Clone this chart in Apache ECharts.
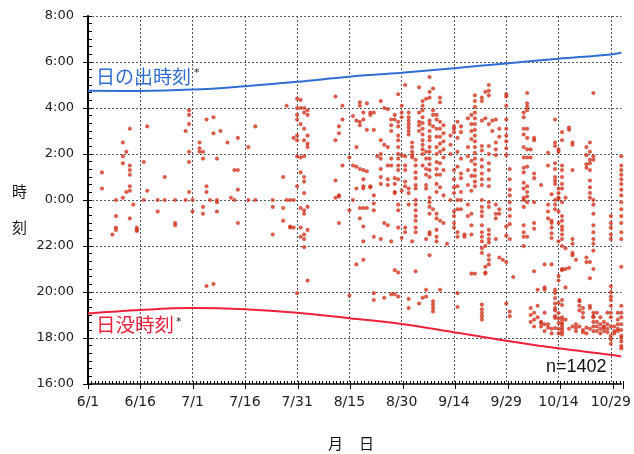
<!DOCTYPE html>
<html>
<head>
<meta charset="utf-8">
<script src="https://cdn.jsdelivr.net/npm/echarts@6/dist/echarts.min.js"></script>
<style>
  html, body { margin: 0; padding: 0; background: #fff; }
  #chart { width: 634px; height: 454px; }
</style>
</head>
<body>
<div id="chart"></div>
<script>
// x: days from 6/1, y: 16:00 .. 8:00 next day (after midnight -> +24)
const xTickLabels = ['6/1', '6/16', '7/1', '7/16', '7/31', '8/15', '8/30', '9/14', '9/29', '10/14', '10/29'];
const yTickLabels = ['16:00', '18:00', '20:00', '22:00', '0:00', '2:00', '4:00', '6:00', '8:00'];
const monthStart = { 6: 0, 7: 30, 8: 61, 9: 92, 10: 122, 11: 153 };

// rows: [day of month, time, time, ...]  (clock hours)
const jun = [
  [5, 1.2, 0.5], [8, 22.5], [9, 0.0, 23.3, 22.8, 22.7], [11, 1.9, 1.6, 2.5, 0.1],
  [12, 2.1, 0.35], [13, 3.1, 1.5, 1.3, 1.1, 0.6, 0.4, 23.2], [14, 23.8],
  [15, 22.8, 22.7, 22.65], [17, 1.65, 0.0], [18, 3.2, 0.4], [21, 0.0, 23.5],
  [23, 1.0, 0.0], [26, 0.0, 23.0, 22.9], [29, 0.0, 3.0],
  [30, 3.9, 3.7, 3.3, 2.1, 1.65, 0.35]
];
const jul = [
  [1, 23.5, 0.0], [3, 2.5, 2.25, 2.1], [4, 2.1, 1.8, 23.7, 23.4], [5, 0.6, 0.35, 3.5, 20.26],
  [6, 0.0], [7, 3.6, 2.9, 20.35], [8, 1.8, 23.9, 23.5, 0.0], [9, 3.0], [11, 2.5],
  [12, 0.1], [13, 1.3, 0.0], [14, 1.3, 2.7, 0.45, 23.0], [17, 0.0, 2.3], [19, 0.0, 3.2],
  [24, 0.0, 23.7, 22.5], [27, 1.0, 23.65, 23.1], [28, 4.1, 0.0], [29, 0.0, 22.8, 22.85],
  [30, 2.7, 22.8, 0.0], [31, 4.4, 4.0, 3.7, 3.5, 2.8, 2.6, 1.9, 0.6, 19.95]
];
const aug = [
  [1, 4.35, 4.0, 3.3, 1.85, 1.2, 23.65, 22.8, 22.4],
  [2, 4.0, 3.8, 3.1, 2.6, 1.9, 1.0, 0.8, 0.3, 23.55, 23.4, 22.5, 22.3, 21.95],
  [3, 3.9, 3.7, 2.8, 2.45, 2.3, 23.7, 22.7, 20.5],
  [11, 4.5, 2.6, 0.85, 0.1], [12, 3.2, 2.9, 0.2, 0.15, 23.0], [13, 4.1, 3.5, 1.5],
  [15, 1.85, 23.55, 19.85], [16, 0.0, 3.65, 1.5], [17, 3.45, 2.3, 1.45, 0.5, 21.2],
  [18, 4.25, 4.1, 3.4, 3.25, 1.35, 23.65, 23.2],
  [19, 3.5, 3.8, 1.3, 0.9, 0.6, 0.5, 23.65, 22.85, 22.2, 21.4],
  [20, 4.2, 3.05, 1.25, 23.65], [21, 3.7, 3.8, 0.6, 0.55],
  [22, 3.05, 3.8, 0.2, 23.85, 23.55, 22.4, 19.95, 19.65], [23, 1.9],
  [24, 4.3, 2.6, 2.0, 1.8, 1.35, 1.0, 0.7, 22.3], [25, 4.0, 2.4, 23.0, 19.75],
  [26, 3.95, 2.3, 1.5, 0.9, 0.65, 22.9], [27, 3.5, 3.25, 3.0, 1.8, 1.5, 22.2, 19.9],
  [28, 3.7, 3.5, 0.95, 0.7, 0.35, 0.3, 19.9, 20.95],
  [29, 4.6, 3.4, 3.2, 2.8, 2.6, 2.3, 2.0, 1.8, 1.5, 1.3, 0.9, 23.8, 23.55, 22.8, 19.8, 20.85],
  [30, 4.1, 3.8, 3.6, 1.95, 0.4, 22.35], [31, 5.0, 0.6, 1.9, 1.5, 1.3, 0.8, 22.8, 22.6]
];
const sep = [
  [1, 3.8, 3.6, 3.45, 3.3, 3.15, 3.0, 2.85, 0.5, 0.3, 23.8, 19.7, 19.3],
  [2, 2.5, 2.3, 2.1, 1.95, 1.85, 22.2],
  [3, 1.75, 1.5, 1.2, 0.95, 0.65, 0.5, 0.0, 23.8, 23.55, 23.3, 23.1, 22.8, 22.6, 20.9],
  [4, 4.9, 3.8, 3.4, 3.25, 3.0, 19.5],
  [5, 4.3, 4.1, 3.9, 3.6, 3.35, 3.1, 2.85, 2.6, 2.4, 2.2, 2.0, 1.5, 19.75],
  [6, 4.4, 2.1, 1.8, 1.35, 1.1, 0.65, 0.5, 22.3, 20.1, 19.8],
  [7, 5.35, 4.7, 4.45, 3.45, 3.3, 3.0, 2.75, 2.6, 2.3, 2.1, 1.8, 1.55, 1.3, 1.0, 0.1, 23.9, 23.7, 23.4, 22.6, 22.5, 21.6],
  [8, 4.85, 3.9, 3.7, 3.2, 23.6, 19.6, 19.45, 19.3, 19.15],
  [9, 3.7, 3.5, 3.1, 2.75, 2.3, 2.0, 1.65, 1.35, 1.1, 0.7, 0.35, 23.4, 23.2, 22.7, 22.4, 22.2],
  [10, 4.45, 4.25, 3.4, 3.1, 2.75, 2.45, 2.1, 1.6, 1.1, 0.55, 23.1, 20.1],
  [11, 3.25, 2.9, 2.55, 2.2, 1.85, 1.3, 0.2, 23.0], [12, 22.1], [13, 2.8, 2.4, 2.0, 0.0],
  [14, 3.1, 2.95, 3.2, 1.3, 0.9, 0.55, 0.3, 23.5, 23.3, 23.0, 22.8],
  [15, 3.4, 2.7, 2.1, 1.45, 0.6, 0.0, 23.6, 22.6, 22.4, 19.95, 19.35],
  [16, 3.2, 2.95, 1.8, 1.15, 0.95, 0.35, 0.0, 23.6], [17, 22.5, 22.4],
  [18, 3.55, 2.3, 1.9, 1.3, 0.65, 23.8, 23.3],
  [19, 3.7, 3.3, 3.0, 2.65, 1.7, 1.05, 0.4, 23.4, 22.9, 22.5, 20.8],
  [20, 4.55, 4.3, 4.05, 3.8, 3.55, 3.3, 3.05, 2.8, 2.55, 2.3, 2.05, 1.8, 1.55, 1.3, 1.05, 0.8, 0.6, 20.8],
  [22, 4.3, 4.45, 3.45, 2.35, 2.15, 1.75, 1.45, 1.15, 0.9, 0.65, 0.0, 23.7, 23.5, 23.3, 22.9, 22.6, 22.4, 22.2, 21.9, 21.7, 19.45, 19.25, 19.1, 18.95, 18.8],
  [23, 4.7, 3.55, 22.0, 21.1, 20.85, 20.8],
  [24, 5.0, 4.75, 4.55, 3.3, 2.35, 2.0, 1.6, 1.3, 0.9, 0.6, 23.9, 23.7, 22.7, 22.5, 22.3, 22.15, 21.6, 21.4, 21.2],
  [25, 3.45, 3.0], [26, 3.5, 2.5, 2.2, 1.95, 23.8, 23.4, 23.2, 22.3],
  [27, 3.1, 2.75, 23.6, 23.4, 21.5], [28, 21.4],
  [29, 4.6, 4.5, 4.1, 3.5, 3.1, 2.8, 2.55, 2.25, 1.95, 22.85, 22.45, 21.3, 19.5],
  [30, 1.35, 0.9, 0.45, 0.2, 23.9, 23.6, 23.3, 22.95, 22.3, 19.15, 18.95]
];
const oct = [
  [1, 20.65],
  [4, 3.8, 3.6, 3.1, 2.85, 2.3, 1.85, 1.4, 1.2, 0.75, 0.5, 0.1, 0.0, 23.7, 22.9, 22.6, 22.4, 22.0],
  [5, 4.65, 4.2, 4.05, 3.9, 3.1, 2.7, 2.2, 1.85, 1.45, 0.6, 0.35, 0.15, 23.9, 22.4],
  [6, 2.2, 1.85, 19.3, 19.0, 18.7], [7, 2.7, 2.6, 1.15, 0.95, 23.9, 23.0, 22.75, 20.9, 19.1, 18.8, 18.5],
  [8, 20.1, 19.4, 18.9], [9, 0.65, 18.7, 18.5, 18.65], [10, 21.2, 20.1, 18.6, 20.2, 19.1, 18.3],
  [11, 2.05, 1.5, 23.8, 23.5, 23.2, 18.45, 18.6], [12, 0.25, 23.1, 23.0, 22.8, 22.55, 22.35, 21.2, 18.4, 18.2],
  [13, 3.5, 2.5, 2.35, 1.6, 1.35, 1.0, 0.85, 0.7, 0.0, 23.8, 23.6, 20.1, 19.5, 19.2, 18.95, 19.96, 19.74, 19.3, 18.87, 18.43],
  [14, 2.2, 2.1, 0.5, 0.3, 0.1, 0.05, 23.5, 23.0, 22.2, 20.7, 20.5, 18.85, 18.4, 18.2, 19.52, 19.09, 18.65],
  [15, 2.95, 2.6, 1.5, 1.3, 1.0, 0.7, 0.5, 23.9, 23.3, 23.1, 22.85, 22.7, 22.5, 22.3, 22.0, 21.0, 20.95, 18.9, 18.65, 18.45, 18.25, 18.15, 19.65, 19.43, 18.78, 18.57, 18.35],
  [16, 0.1, 21.9, 21.0, 18.8, 20.2], [17, 3.05, 3.15, 21.05, 18.4],
  [18, 2.5, 2.4, 1.3, 22.3, 22.1, 21.7, 21.6, 18.5], [19, 21.4, 18.6, 18.3, 18.45],
  [20, 19.6, 19.4, 18.5, 19.65, 19.2], [21, 19.3, 19.1, 18.35, 18.9, 18.25],
  [22, 2.3, 1.95, 1.55, 1.4, 21.5, 21.3, 18.45, 18.2],
  [23, 2.5, 2.1, 1.75, 1.6, 1.3, 0.85, 0.55, 0.3, 0.1, 21.3, 20.6, 19.4, 19.3, 18.4],
  [24, 4.65, 1.9, 1.75, 0.0, 23.8, 23.4, 22.9, 22.6, 22.3, 22.1, 21.8, 21.0, 19.1, 18.95, 18.7, 18.3, 18.9, 18.5],
  [25, 18.5, 18.3, 19.1, 18.7], [26, 18.6, 18.4, 18.9, 18.2], [27, 18.3, 18.5, 18.7, 18.45],
  [28, 19.1, 18.6, 18.4, 18.25],
  [29, 23.3, 23.0, 22.8, 22.5, 22.3, 20.25, 20.0, 19.65, 19.4, 18.1, 17.95, 17.75, 19.8, 19.1, 18.9, 18.5],
  [30, 18.5, 18.3, 18.2], [31, 18.6, 18.4, 19.1, 18.8, 18.3]
];
const nov = [
  [1, 1.9, 1.5, 1.3, 1.1, 0.9, 0.7, 0.45, 0.2, 23.9, 23.6, 23.3, 23.0, 22.6, 22.3, 21.1, 19.4, 19.1, 18.9, 18.6, 18.35, 18.1, 18.0, 17.85, 17.65, 17.55]
];

// sunrise / sunset read every 15 days
const curveDays = [0, 15, 30, 45, 60, 75, 90, 105, 120, 135, 150, 153];
const sunrise = [4.75, 4.74, 4.8, 4.95, 5.14, 5.36, 5.53, 5.73, 5.94, 6.14, 6.33, 6.40];
const sunset = [19.07, 19.22, 19.30, 19.25, 19.10, 18.86, 18.61, 18.25, 17.88, 17.55, 17.27, 17.2];

function toY(t) { return t < 12 ? t + 24 : t; }

let points = [];
[[6, jun], [7, jul], [8, aug], [9, sep], [10, oct], [11, nov]].forEach(function (m) {
  m[1].forEach(function (r) {
    let d = monthStart[m[0]] + r[0] - 1;
    for (let i = 1; i < r.length; i++) points.push([d, toY(r[i])]);
  });
});

const font = 'DejaVu Sans, Arial, sans-serif';
const jpFont = '"Noto Sans CJK JP", sans-serif';
const black = { color: '#000', width: 1, type: 'solid' };

// thin strip grids: their split lines act as the tick marks of the main axes
function xStrip(gridIndex, minor) {
  return {
    gridIndex: gridIndex, type: 'value', min: 0, max: 153, interval: 15,
    axisLine: { show: false }, axisTick: { show: false }, axisLabel: { show: false },
    splitLine: { show: true, lineStyle: black },
    minorTick: { show: false, splitNumber: 15 },
    minorSplitLine: { show: minor, lineStyle: black }
  };
}
function yStrip(gridIndex, minor) {
  return {
    gridIndex: gridIndex, type: 'value', min: 16, max: 32, interval: 2,
    axisLine: { show: false }, axisTick: { show: false }, axisLabel: { show: false },
    splitLine: { show: true, lineStyle: black },
    minorTick: { show: false, splitNumber: 6 },
    minorSplitLine: { show: minor, lineStyle: black }
  };
}
function hidden(gridIndex) {
  return { gridIndex: gridIndex, type: 'value', min: 0, max: 1, show: false };
}

let myChart = echarts.init(document.getElementById('chart'));
let option = {
  animation: false,
  grid: [
    { left: 88, right: 10.5, top: 16, bottom: 70 },
    { left: 88, right: 10.5, top: 381, height: 3 },   // inner day ticks
    { left: 88, right: 10.5, top: 384, height: 5 },   // outer major ticks
    { left: 88, width: 4, top: 16, bottom: 70 },      // inner 20-min ticks
    { left: 83, width: 5, top: 16, bottom: 70 }       // outer major ticks
  ],
  xAxis: [
    {
      type: 'value', min: 0, max: 153, interval: 15,
      axisLine: { lineStyle: { color: '#000', width: 1.5 } },
      axisTick: { show: false },
      axisLabel: {
        color: '#222', fontSize: 14, fontFamily: font, margin: 11, showMaxLabel: false,
        formatter: function (v) { return xTickLabels[Math.round(v / 15)] || ''; }
      },
      splitLine: { showMinLine: false, showMaxLine: false, lineStyle: { color: '#555', width: 1, type: [2, 2] } }
    },
    xStrip(1, true),
    xStrip(2, false),
    hidden(3),
    hidden(4)
  ],
  yAxis: [
    {
      type: 'value', min: 16, max: 32, interval: 2,
      axisLine: { show: true, lineStyle: { color: '#000', width: 2 } },
      axisTick: { show: false },
      axisLabel: {
        color: '#222', fontSize: 13, fontFamily: font, margin: 14,
        formatter: function (v) { return yTickLabels[Math.round((v - 16) / 2)]; }
      },
      splitLine: { showMinLine: false, lineStyle: { color: '#555', width: 1, type: [2, 2] } }
    },
    hidden(1),
    hidden(2),
    yStrip(3, true),
    yStrip(4, false)
  ],
  graphic: [
    { type: 'text', left: 96, top: 67, style: { text: '日の出時刻', font: '19px ' + jpFont, fill: '#2f6fd3' } },
    { type: 'text', left: 194, top: 68, style: { text: '*', font: '11px ' + font, fill: '#222' } },
    { type: 'text', left: 96, top: 315, style: { text: '日没時刻', font: '19.5px ' + jpFont, fill: '#f0203c' } },
    { type: 'text', left: 176, top: 317, style: { text: '*', font: '11px ' + font, fill: '#222' } },
    { type: 'text', left: 546, top: 358, style: { text: 'n=1402', font: '18px "Liberation Sans", Arial, sans-serif', fill: '#111' } },
    { type: 'text', left: 12, top: 184, style: { text: '時', font: '15px ' + jpFont, fill: '#111' } },
    { type: 'text', left: 12, top: 220, style: { text: '刻', font: '15px ' + jpFont, fill: '#111' } },
    { type: 'text', left: 328, top: 436, style: { text: '月', font: '15px ' + jpFont, fill: '#111' } },
    { type: 'text', left: 359, top: 436, style: { text: '日', font: '15px ' + jpFont, fill: '#111' } }
  ],
  series: [
    {
      name: 'points', type: 'scatter', symbol: 'circle', symbolSize: 3.6,
      itemStyle: { color: '#e2321a', borderColor: '#9a2410', borderWidth: 0.4 },
      data: points
    },
    {
      name: '日の出時刻', type: 'line', smooth: 0.4, showSymbol: false,
      lineStyle: { color: '#2f6fd3', width: 2 },
      data: curveDays.map(function (d, i) { return [d, toY(sunrise[i])]; })
    },
    {
      name: '日没時刻', type: 'line', smooth: 0.4, showSymbol: false,
      lineStyle: { color: '#f0203c', width: 2 },
      data: curveDays.map(function (d, i) { return [d, toY(sunset[i])]; })
    }
  ]
};
myChart.setOption(option);
</script>
</body>
</html>
